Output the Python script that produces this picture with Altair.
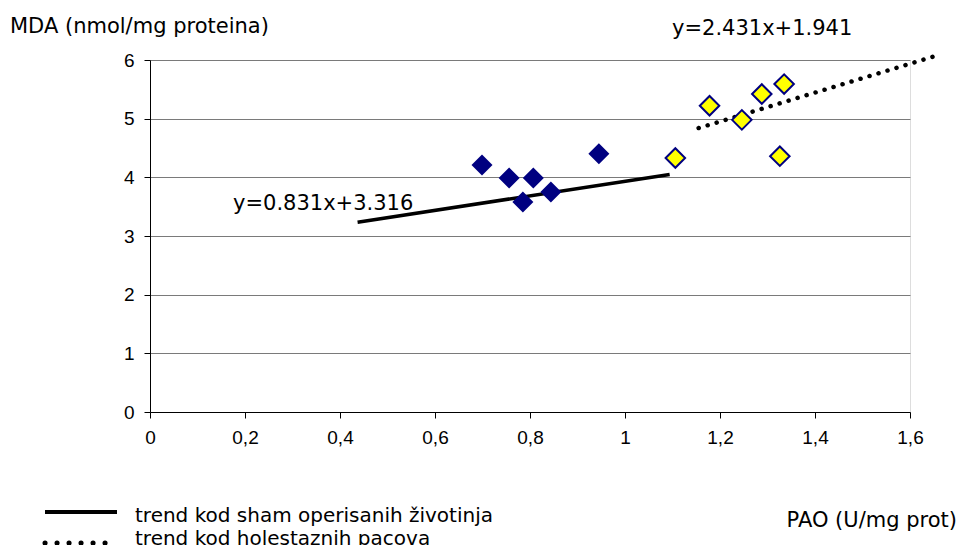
import altair as alt
import pandas as pd

# --- data ---
sham_x = [0.699, 0.756, 0.785, 0.807, 0.844, 0.945]
sham_y = [4.21, 3.99, 3.58, 3.99, 3.75, 4.40]
chol_x = [1.106, 1.178, 1.246, 1.288, 1.326, 1.335]
chol_y = [4.33, 5.22, 4.98, 5.42, 4.36, 5.59]
sham_trend_x = [0.437, 1.094]
sham_trend_y = [3.235, 4.05]
chol_trend_x = [1.155, 1.654]
chol_trend_y = [4.84, 6.07]
x_ticks = [0, 0.2, 0.4, 0.6, 0.8, 1.0, 1.2, 1.4, 1.6]
y_ticks = [0, 1, 2, 3, 4, 5, 6]

y_title = "MDA (nmol/mg proteina)"
x_title = "PAO (U/mg prot)"
eq_sham = "y=0.831x+3.316"
eq_chol = "y=2.431x+1.941"
legend_sham = "trend kod sham operisanih životinja"
legend_chol = "trend kod holestaznih pacova"

TEXT_FONT = "DejaVu Sans"
TEXT_SIZE = 21
TICK_FONT = "Liberation Sans"

sham_df = pd.DataFrame({"x": sham_x, "y": sham_y})
chol_df = pd.DataFrame({"x": chol_x, "y": chol_y})
sham_tr = pd.DataFrame({"x": sham_trend_x, "y": sham_trend_y})
chol_tr = pd.DataFrame({"x": chol_trend_x, "y": chol_trend_y})

xscale = alt.Scale(domain=[0, 1.6], nice=False, zero=True)
yscale = alt.Scale(domain=[0, 6], nice=False, zero=True)

xaxis = alt.Axis(
    title=None, values=x_ticks, grid=False, labelFlush=False,
    domainColor="black", domainWidth=1, tickColor="black", tickSize=6,
    labelFont=TICK_FONT, labelFontSize=19, labelColor="black", labelPadding=10,
    labelExpr="replace(format(datum.value, '~g'), '.', ',')",
)
yaxis = alt.Axis(
    title=None, values=y_ticks, grid=True, gridColor="#7a7a7a", gridWidth=1,
    labelFlush=False,
    domainColor="black", domainWidth=1, tickColor="black", tickSize=6,
    labelFont=TICK_FONT, labelFontSize=19, labelColor="black", labelPadding=10,
    labelExpr="format(datum.value, '~g')",
)

base_x = alt.X("x:Q", scale=xscale, axis=xaxis)
base_y = alt.Y("y:Q", scale=yscale, axis=yaxis)

sham_pts = alt.Chart(sham_df).mark_point(
    shape="diamond", filled=True, size=441, color="#000080", opacity=1
).encode(x=base_x, y=base_y)

chol_pts = alt.Chart(chol_df).mark_point(
    shape="diamond", filled=True, size=380, fill="#FFFF00",
    stroke="#000080", strokeWidth=2, opacity=1
).encode(x=alt.X("x:Q", scale=xscale), y=alt.Y("y:Q", scale=yscale))

sham_line = alt.Chart(sham_tr).mark_line(
    color="black", strokeWidth=3.5, clip=False
).encode(x=alt.X("x:Q", scale=xscale), y=alt.Y("y:Q", scale=yscale))

chol_line = alt.Chart(chol_tr).mark_line(
    color="black", strokeWidth=4.5, strokeDash=[0.1, 9.3], strokeCap="round", clip=False
).encode(x=alt.X("x:Q", scale=xscale), y=alt.Y("y:Q", scale=yscale))

one = alt.InlineData(values=[{}])


def label(txt, x, y, align="left", size=TEXT_SIZE):
    return alt.Chart(one).mark_text(
        text=txt, font=TEXT_FONT, fontSize=size, color="black",
        align=align, baseline="alphabetic", clip=False
    ).encode(x=alt.value(x), y=alt.value(y))


texts = [
    label(y_title, -140, -27),
    label(eq_chol, 522, -25),
    label(eq_sham, 83, 150),
    label(x_title, 807, 467, align="right"),
    label(legend_sham, -15, 462, size=20),
    label(legend_chol, -15, 485, size=20),
]

leg_solid = alt.Chart(one).mark_rule(color="black", strokeWidth=4).encode(
    x=alt.value(-105), x2=alt.value(-33), y=alt.value(452)
)
leg_dot = alt.Chart(one).mark_rule(
    color="black", strokeWidth=5, strokeDash=[0.1, 11.9], strokeCap="round"
).encode(x=alt.value(-105), x2=alt.value(-44), y=alt.value(483))

chart = alt.layer(
    sham_line, chol_line, sham_pts, chol_pts, leg_solid, leg_dot, *texts
).properties(
    width=760, height=352,
    autosize=alt.AutoSizeParams(type="none"),
    padding={"left": 142, "top": 52, "right": 49, "bottom": 133},
).configure_view(strokeWidth=0).configure(background="white")

chart.save("out.html", embed_options={"renderer": "svg", "actions": False})
